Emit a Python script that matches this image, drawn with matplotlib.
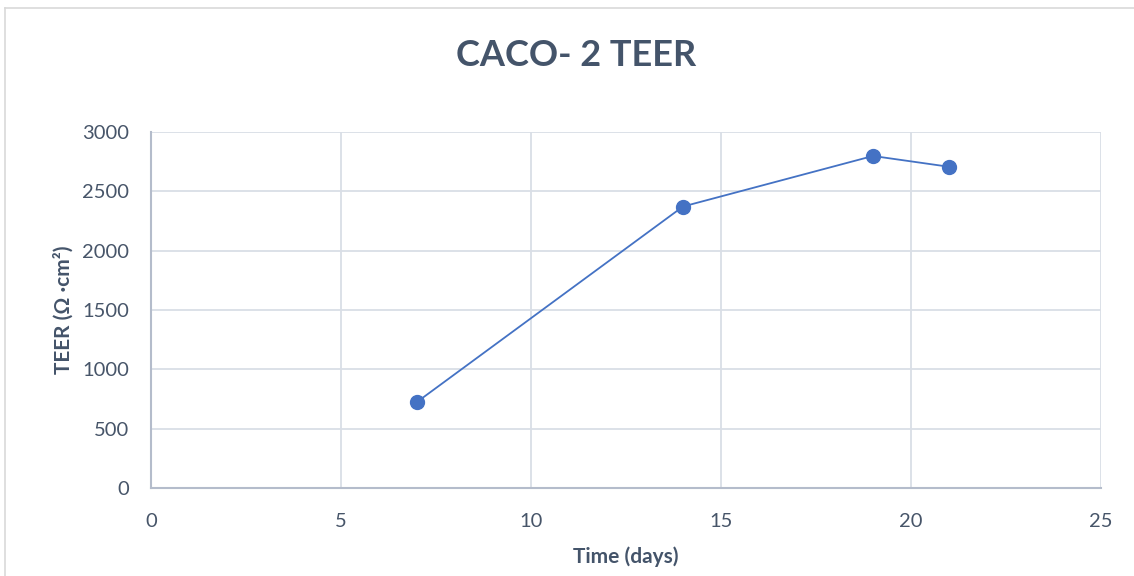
import matplotlib
matplotlib.use("Agg")
import matplotlib.pyplot as plt
from matplotlib.lines import Line2D

# TEER measurements of the Caco-2 monolayer over time
days = [7, 14, 19, 21]
teer = [725, 2372, 2798, 2707]

x_ticks = [0, 5, 10, 15, 20, 25]
y_ticks = [0, 500, 1000, 1500, 2000, 2500, 3000]

title = "CACO- 2 TEER"
x_label = "Time (days)"
y_label = "TEER (Ω ·cm²)"

plt.rcParams["font.family"] = ["Lato", "DejaVu Sans"]

text_col = "#44546A"
tick_col = "#475569"
grid_col = "#D9DEE6"
axis_col = "#B4BCCB"
series_col = "#4472C4"

fig = plt.figure(figsize=(11.34, 5.76), dpi=100)
ax = fig.add_axes([151 / 1134, 1 - 488 / 576, 950 / 1134, 356 / 576])

ax.plot(days, teer, color=series_col, lw=1.3, marker="o", ms=10,
        markerfacecolor=series_col, markeredgecolor=series_col, zorder=3)

ax.set_xlim(0, 25)
ax.set_ylim(0, 3000)
ax.set_xticks(x_ticks)
ax.set_yticks(y_ticks)
ax.grid(True, color=grid_col, lw=1.3)
ax.set_axisbelow(True)

for side in ["top", "right"]:
    ax.spines[side].set_visible(False)
for side in ["left", "bottom"]:
    ax.spines[side].set_color(axis_col)
    ax.spines[side].set_linewidth(1.5)

ax.tick_params(length=0, labelsize=14.5, labelcolor=tick_col)
ax.tick_params(axis="x", pad=18)
ax.tick_params(axis="y", pad=16)

ax.set_xlabel(x_label, fontsize=15, fontweight="bold", color=text_col, labelpad=12)
ax.set_ylabel(y_label, fontsize=15, fontweight="bold", color=text_col, labelpad=6)

fig.text(576 / 1134, 1 - 55 / 576, title, ha="center", va="center",
         fontsize=26, fontweight="bold", color=text_col)

# thin outer frame of the chart area
fig.add_artist(Line2D([5 / 1134, 1], [1 - 8 / 576, 1 - 8 / 576],
                      transform=fig.transFigure, color="#D9D9D9", lw=1.2))
fig.add_artist(Line2D([5 / 1134, 5 / 1134], [0, 1 - 8 / 576],
                      transform=fig.transFigure, color="#D9D9D9", lw=1.2))

fig.savefig("out.png", dpi=100, facecolor="white")
